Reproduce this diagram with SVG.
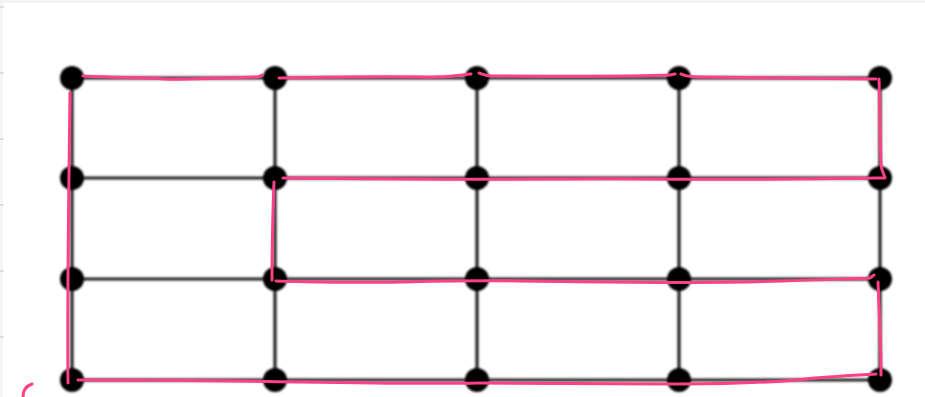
<svg xmlns="http://www.w3.org/2000/svg" width="925" height="397" viewBox="0 0 925 397">
  <style>
    .edge { stroke: #222; stroke-width: 3.2; fill: none; }
    .node { fill: #000; }
    .tick { stroke: #c8c8c8; stroke-width: 1; }
    .ink { stroke: #ff3f86; stroke-width: 3; fill: none; stroke-linecap: round; stroke-linejoin: round; }
  </style>
  <defs>
    <filter id="soft" x="-5%" y="-5%" width="110%" height="110%">
      <feGaussianBlur stdDeviation="0.8"/>
    </filter>
  </defs>
  <rect width="925" height="397" fill="#fff"/>
  <g id="frame">
    <line x1="0" y1="1.5" x2="925" y2="1.5" stroke="#f0f0f0" stroke-width="2"/>
    <line x1="1.5" y1="0" x2="1.5" y2="397" stroke="#f0f0f0" stroke-width="2"/>
    <line class="tick" x1="0" y1="7" x2="4" y2="7"/>
    <line class="tick" x1="0" y1="73" x2="4" y2="73"/>
    <line class="tick" x1="0" y1="139" x2="4" y2="139"/>
    <line class="tick" x1="0" y1="205" x2="4" y2="205"/>
    <line class="tick" x1="0" y1="271" x2="4" y2="271"/>
    <line class="tick" x1="0" y1="337" x2="4" y2="337"/>
  </g>
  <g id="connectors" filter="url(#soft)">
    <line class="edge" x1="72" y1="78" x2="880" y2="78"/>
    <line class="edge" x1="72" y1="178" x2="880" y2="178"/>
    <line class="edge" x1="72" y1="279" x2="880" y2="279"/>
    <line class="edge" x1="72" y1="380" x2="880" y2="380"/>
    <line class="edge" x1="72" y1="78" x2="72" y2="380"/>
    <line class="edge" x1="275" y1="78" x2="275" y2="380"/>
    <line class="edge" x1="477" y1="78" x2="477" y2="380"/>
    <line class="edge" x1="679" y1="78" x2="679" y2="380"/>
    <line class="edge" x1="880" y1="78" x2="880" y2="380"/>
  </g>
  <g id="nodes" filter="url(#soft)">
    <g id="n00"><circle class="node" cx="72" cy="78" r="12"/></g>
    <g id="n01"><circle class="node" cx="275" cy="78" r="12"/></g>
    <g id="n02"><circle class="node" cx="477" cy="78" r="12"/></g>
    <g id="n03"><circle class="node" cx="679" cy="78" r="12"/></g>
    <g id="n04"><circle class="node" cx="880" cy="78" r="12"/></g>
    <g id="n10"><circle class="node" cx="72" cy="178" r="12"/></g>
    <g id="n11"><circle class="node" cx="275" cy="178" r="12"/></g>
    <g id="n12"><circle class="node" cx="477" cy="178" r="12"/></g>
    <g id="n13"><circle class="node" cx="679" cy="178" r="12"/></g>
    <g id="n14"><circle class="node" cx="880" cy="178" r="12"/></g>
    <g id="n20"><circle class="node" cx="72" cy="279" r="12"/></g>
    <g id="n21"><circle class="node" cx="275" cy="279" r="12"/></g>
    <g id="n22"><circle class="node" cx="477" cy="279" r="12"/></g>
    <g id="n23"><circle class="node" cx="679" cy="279" r="12"/></g>
    <g id="n24"><circle class="node" cx="880" cy="279" r="12"/></g>
    <g id="n30"><circle class="node" cx="72" cy="380" r="12"/></g>
    <g id="n31"><circle class="node" cx="275" cy="380" r="12"/></g>
    <g id="n32"><circle class="node" cx="477" cy="380" r="12"/></g>
    <g id="n33"><circle class="node" cx="679" cy="380" r="12"/></g>
    <g id="n34"><circle class="node" cx="880" cy="380" r="12"/></g>
  </g>
  <g id="annotation">
    <path class="ink" d="M 70,93 C 69,180 67,300 68,383"/>
    <path class="ink" d="M 83,76 C 120,78 140,77 165,79 C 190,80 220,78 258,77 L 262,75"/>
    <path class="ink" d="M 279,78 C 330,77 380,76 420,77 C 445,78 460,75 471,74"/>
    <path class="ink" d="M 479,73 C 483,74 484,76 492,76 C 560,76 620,77 670,75 L 675,74"/>
    <path class="ink" d="M 681,74 C 684,75 685,77 700,77 C 760,78 820,78 876,79"/>
    <path class="ink" d="M 879,79 C 880,110 880,140 881,165 C 882,172 884,174 885,178"/>
    <path class="ink" d="M 884,178 C 800,179 720,180 660,179 C 580,178 500,180 420,179 C 360,179 310,178 283,178"/>
    <path class="ink" d="M 274,182 C 273,210 272,250 272,280"/>
    <path class="ink" d="M 276,281 C 320,282 360,283 400,282 C 440,281 470,280 520,281 C 620,282 700,284 780,281 C 830,279 860,279 870,278 L 874,275"/>
    <path class="ink" d="M 878,282 C 879,310 881,340 881,375"/>
    <path class="ink" d="M 876,374 C 860,375 840,376 815,378 C 790,381 740,384 679,384 C 600,384 520,383 480,383 C 420,384 360,383 300,382 C 200,380 140,380 78,380"/>
    <path class="ink" d="M 23,397 C 23,391 26,386 32,384"/>
  </g>
</svg>
